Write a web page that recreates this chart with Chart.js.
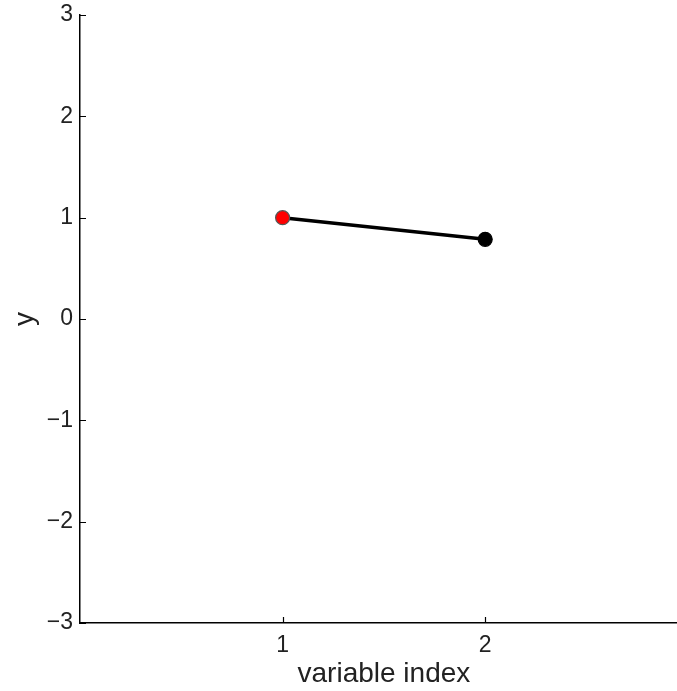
<!DOCTYPE html>
<html><head><meta charset="utf-8">
<script src="https://cdn.jsdelivr.net/npm/chart.js@4"></script>
<style>html,body{margin:0;padding:0;background:#fff;overflow:hidden}#wrap{width:677px;height:691px;overflow:hidden}</style>
</head><body><div id="wrap"><canvas id="c" width="696" height="691"></canvas></div>
<script>
const variableIndex = [1, 2];
const yValues = [1.0, 0.786];
const pointColors = ['#ff0000', '#000000'];
const xTicks = [1, 2];
const yTicks = [-3, -2, -1, 0, 1, 2, 3];
const xLabel = 'variable index';
const yLabel = 'y';

const family = '"Liberation Sans", Arial, Helvetica, sans-serif';
const tickFont = {family, size: 23};
const titleFont = {family, size: 28};
const inwardTicks = {
  id: 'inwardTicks',
  afterDraw(chart) {
    const ctx = chart.ctx, a = chart.chartArea, xs = chart.scales.x, ys = chart.scales.y;
    ctx.save(); ctx.strokeStyle = '#000'; ctx.lineWidth = 1.2;
    ctx.beginPath();
    xTicks.forEach(v => { const p = Math.round(xs.getPixelForValue(v)) + 0.5; ctx.moveTo(p, a.bottom); ctx.lineTo(p, a.bottom - 6); });
    yTicks.forEach(v => { const p = Math.round(ys.getPixelForValue(v)) + 0.5; ctx.moveTo(a.left, p); ctx.lineTo(a.left + 6, p); });
    ctx.stroke(); ctx.restore();
  }
};
new Chart(document.getElementById('c'), {
  type: 'line',
  data: { datasets: [{
    data: variableIndex.map((x, i) => ({x, y: yValues[i]})),
    borderColor: '#000', borderWidth: 3.5,
    pointBackgroundColor: pointColors, pointBorderColor: ['#555', '#000'],
    pointBorderWidth: 1.2, pointRadius: 7, pointHoverRadius: 7, tension: 0
  }]},
  options: {
    responsive: false, animation: false, devicePixelRatio: 1,
    layout: {padding: {top: 15, right: 0, left: 0, bottom: 0}},
    plugins: {legend: {display: false}, tooltip: {enabled: false}},
    scales: {
      x: {type: 'linear', min: 0, max: 3,
        afterBuildTicks: s => { s.ticks = xTicks.map(v => ({value: v})); },
        afterFit: s => { s.height = 68; s.paddingLeft = 0; s.paddingRight = 0; },
        grid: {display: false, drawTicks: false},
        border: {display: true, color: '#000', width: 1.5},
        ticks: {color: '#222', font: tickFont, padding: 9, maxRotation: 0},
        title: {display: true, text: xLabel, color: '#222', font: titleFont, padding: {top: 0, bottom: 0}}
      },
      y: {type: 'linear', min: -3, max: 3,
        afterBuildTicks: s => { s.ticks = yTicks.map(v => ({value: v})); },
        afterFit: s => { s.width = 80; s.paddingTop = 0; s.paddingBottom = 0; },
        grid: {display: false, drawTicks: false},
        border: {display: true, color: '#000', width: 1.5},
        ticks: {color: '#222', font: tickFont, padding: 7, callback: v => String(v).replace('-', '\u2212')},
        title: {display: true, text: yLabel, color: '#222', font: titleFont, padding: {top: 8, bottom: 0}}
      }
    }
  },
  plugins: [inwardTicks]
});
</script></body></html>
